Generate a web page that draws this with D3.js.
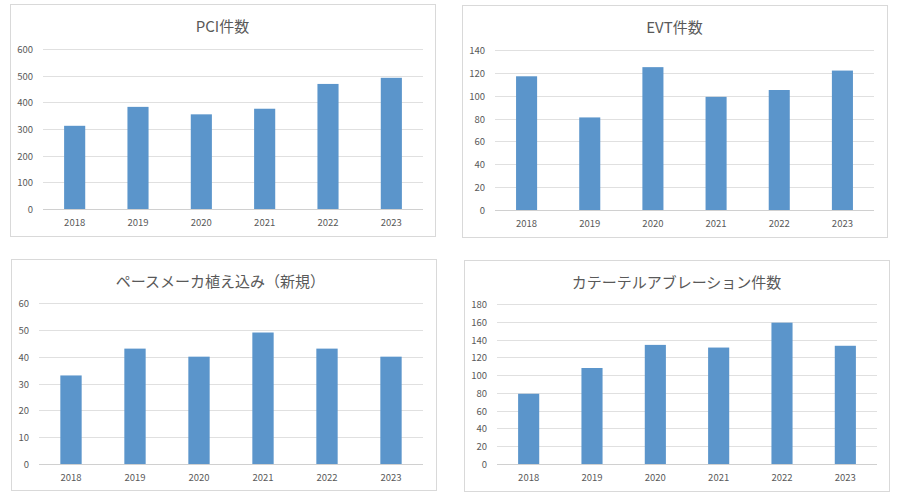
<!DOCTYPE html>
<html><head><meta charset="utf-8">
<script src="https://cdn.jsdelivr.net/npm/d3@7/dist/d3.min.js"></script>
<style>
html,body{margin:0;padding:0;background:#fff;}
svg{display:block;}
</style></head>
<body>
<svg id="chart" width="900" height="499"></svg>
<script>
const years = ["2018","2019","2020","2021","2022","2023"];
const pciValues = [312, 383, 355, 376, 469, 492];
const evtValues = [117, 81, 125, 99, 105, 122];
const pacemakerValues = [33, 43, 40, 49, 43, 40];
const ablationValues = [79, 108, 134, 131, 159, 133];
const titles = ["PCI件数", "EVT件数", "ペースメーカ植え込み（新規）", "カテーテルアブレーション件数"];
const yMax = [600, 140, 60, 180];
const yStep = [100, 20, 10, 20];

const panels = [
  {box:[10,4,425,232], plot:[43,49,423,209], titleY:25, values:pciValues},
  {box:[462,5,425,232], plot:[495,50,874,210], titleY:26, values:evtValues},
  {box:[11,259,425,231], plot:[39,303,423,464], titleY:280, values:pacemakerValues},
  {box:[464,260,425,231], plot:[497,304,877,464], titleY:281, values:ablationValues}
];

const svg = d3.select("#chart");
const font = "'Noto Sans CJK JP','Noto Sans',sans-serif";
const textColor = "#595959";

panels.forEach((p, i) => {
  const g = svg.append("g");
  const [bx, by, bw, bh] = p.box;
  g.append("rect").attr("x", bx+0.5).attr("y", by+0.5).attr("width", bw).attr("height", bh)
    .attr("fill", "#fff").attr("stroke", "#d9d9d9").attr("stroke-width", 1);
  const [x0, y0, x1, y1] = p.plot;
  g.append("text").attr("x", bx + bw / 2 - (i === 2 ? 3 : 0)).attr("y", p.titleY)
    .attr("text-anchor", "middle").attr("dominant-baseline", "central")
    .attr("font-family", font).attr("font-size", 15).attr("fill", textColor)
    .text(titles[i]);

  const x = d3.scaleBand().domain(years).range([x0, x1]).paddingInner(2/3).paddingOuter(1/3);
  const y = d3.scaleLinear().domain([0, yMax[i]]).range([y1, y0]);
  const ticks = d3.range(0, yMax[i] + yStep[i]/2, yStep[i]);

  g.append("g").selectAll("line").data(ticks).join("line")
    .attr("x1", x0).attr("x2", x1)
    .attr("y1", d => Math.round(y(d)) + 0.5).attr("y2", d => Math.round(y(d)) + 0.5)
    .attr("stroke", d => d === 0 ? "#d0d0d0" : "#e0e0e0").attr("stroke-width", 1);

  g.append("g").selectAll("text").data(ticks).join("text")
    .attr("x", x0 - 10).attr("y", d => y(d)).attr("text-anchor", "end")
    .attr("dominant-baseline", "central")
    .attr("font-family", font).attr("font-size", 9.5).attr("fill", textColor)
    .text(d => d);

  g.append("g").selectAll("rect").data(p.values).join("rect")
    .attr("x", (d, j) => x(years[j])).attr("width", x.bandwidth())
    .attr("y", d => y(d)).attr("height", d => y(0) - y(d))
    .attr("fill", "#5b95cb");

  g.append("g").selectAll("text").data(years).join("text")
    .attr("x", d => x(d) + x.bandwidth() / 2).attr("y", y1 + 13)
    .attr("text-anchor", "middle").attr("dominant-baseline", "central")
    .attr("font-family", font).attr("font-size", 9.5).attr("fill", textColor)
    .text(d => d);
});
</script>
</body></html>
